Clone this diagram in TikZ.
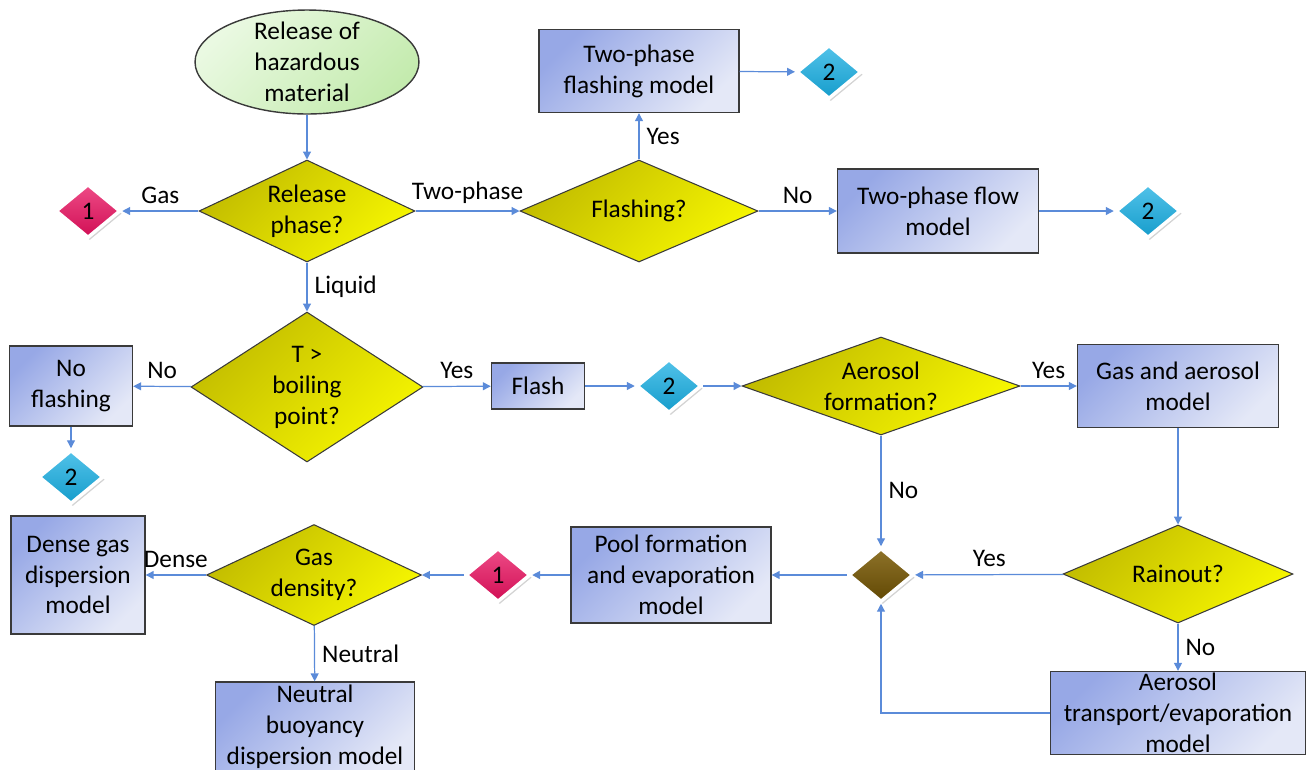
\documentclass[tikz,border=0pt]{standalone}
\usepackage{fontspec}
\setmainfont{Carlito}
\usetikzlibrary{shapes.geometric, arrows.meta, shadows}

\definecolor{arrowblue}{HTML}{5B8BD9}
\definecolor{boxdark}{HTML}{97A8E6}
\definecolor{boxlight}{HTML}{E4E8F7}
\definecolor{yelldark}{HTML}{C2BC00}
\definecolor{yelllight}{HTML}{F6F600}
\definecolor{edgegray}{HTML}{3A3A3A}
\definecolor{greendark}{HTML}{C4EBAE}
\definecolor{greenlight}{HTML}{EAF9E2}
\definecolor{pinkc}{HTML}{E8105E}
\definecolor{bluec}{HTML}{18AEE2}
\definecolor{brownc}{HTML}{7A5A04}

\begin{document}
\begin{tikzpicture}[x=0.02cm, y=-0.02cm,
    every node/.style={font=\fontsize{14.4}{17.6}\selectfont, text=black},
    model/.style={draw=edgegray, line width=0.8pt, left color=boxdark, right color=boxlight, shading angle=45, align=center, inner sep=0pt},
    decision/.style={diamond, draw=edgegray, line width=0.6pt, left color=yelldark, right color=yelllight, shading angle=45, align=center, inner sep=0pt},
    joint/.style={diamond, draw=white, line width=2pt, inner sep=0pt, aspect=1.2, minimum width=1.3cm, minimum height=1.08cm, drop shadow={opacity=0.35, shadow xshift=1pt, shadow yshift=-1.5pt}},
    pinkjoint/.style={joint, top color=pinkc!75!white, bottom color=pinkc!90!black},
    bluejoint/.style={joint, top color=bluec!75!white, bottom color=bluec!90!black},
    flow/.style={draw=arrowblue, line width=0.7pt, -{Triangle[length=4.5pt, width=4.5pt]}},
    lbl/.style={inner sep=4pt}]
    \useasboundingbox (0,0) rectangle (1306,769);

    % Start
    \node[ellipse, draw=edgegray, line width=0.8pt, left color=greenlight, right color=greendark, shading angle=45, minimum width=4.48cm, minimum height=2.08cm] (start) at (307,62) {};
    \node[align=center] (starttext) at (start.center) {Release of\\hazardous\\material};

    % Decisions
    \node[decision, minimum width=4.32cm, minimum height=2.04cm, aspect=2.1] (rphase) at (307,211) {Release\\phase?};
    \node[decision, minimum width=4.76cm, minimum height=2.04cm, aspect=2.3] (flashq) at (639,211) {Flashing?};
    \node[decision, minimum width=4.64cm, minimum height=3.0cm, aspect=1.55] (tboil) at (307,387) {T >\\boiling\\point?};
    \node[decision, minimum width=5.56cm, minimum height=1.96cm, aspect=2.84] (aerq) at (881,386) {Aerosol\\formation?};
    \node[decision, minimum width=4.6cm, minimum height=1.96cm, aspect=2.35] (rainq) at (1178,574) {Rainout?};
    \node[decision, minimum width=4.3cm, minimum height=2.02cm, aspect=2.13] (densq) at (314,575) {Gas\\density?};

    % Models
    \node[model, minimum width=4cm, minimum height=1.66cm] (tpfm) at (639,71) {Two-phase\\flashing model};
    \node[model, minimum width=4.02cm, minimum height=1.68cm] (tpflow) at (938,211) {Two-phase flow\\model};
    \node[model, minimum width=2.46cm, minimum height=1.6cm] (noflash) at (71,386) {No\\flashing};
    \node[model, minimum width=1.86cm, minimum height=0.92cm] (flash) at (538,386) {Flash};
    \node[model, minimum width=4.02cm, minimum height=1.66cm] (gasaer) at (1178,386) {Gas and aerosol\\model};
    \node[model, minimum width=4cm, minimum height=1.92cm] (pool) at (671,575) {Pool formation\\and evaporation\\model};
    \node[model, minimum width=2.68cm, minimum height=2.36cm] (dense) at (78,575) {Dense gas\\dispersion\\model};
    \node[model, minimum width=3.98cm, minimum height=1.8cm] (neutral) at (315,727) {Neutral\\buoyancy\\dispersion model};
    \node[model, minimum width=5.1cm, minimum height=1.66cm] (aertrans) at (1178,713) {Aerosol\\transport/evaporation\\model};

    % Connectors
    \node[pinkjoint] (gasa) at (88,211) {1};
    \node[pinkjoint] (gasb) at (498,575) {1};
    \node[bluejoint] (flsha) at (829,72) {2};
    \node[bluejoint] (flshb) at (1148,211) {2};
    \node[bluejoint] (flshc) at (71,477) {2};
    \node[bluejoint] (flshd) at (669,386) {2};
    \node[joint, top color=brownc!85!white, bottom color=brownc!80!black] (merge) at (881,575) {};

    % Arrows
    \draw[flow] (start) -- (rphase);
    \draw[flow] (rphase) -- node[lbl, above] {Gas} (gasa);
    \draw[flow] (rphase) -- node[lbl, above] {Two-phase} (flashq);
    \draw[flow] (flashq) -- node[lbl, right] {Yes} (tpfm);
    \draw[flow] (tpfm) -- (flsha);
    \draw[flow] (flashq) -- node[lbl, above] {No} (tpflow);
    \draw[flow] (tpflow) -- (flshb);
    \draw[flow] (rphase) -- node[lbl, right] {Liquid} (tboil);
    \draw[flow] (tboil) -- node[lbl, above] {No} (noflash);
    \draw[flow] (noflash) -- (flshc);
    \draw[flow] (tboil) -- node[lbl, above] {Yes} (flash);
    \draw[flow] (flash) -- (flshd);
    \draw[flow] (flshd) -- (aerq);
    \draw[flow] (aerq) -- node[lbl, above] {Yes} (gasaer);
    \draw[flow] (gasaer) -- (rainq);
    \draw[flow] (aerq) -- node[lbl, right] {No} (merge);
    \draw[flow] (rainq) -- node[lbl, above] {Yes} (merge);
    \draw[flow] (rainq) -- node[lbl, right] {No} (aertrans);
    \draw[flow] (aertrans) -| (merge);
    \draw[flow] (merge) -- (pool);
    \draw[flow] (pool) -- (gasb);
    \draw[flow] (gasb) -- (densq);
    \draw[flow] (densq) -- node[lbl, above] {Dense} (dense);
    \draw[flow] (densq) -- node[lbl, right] {Neutral} (neutral);
\end{tikzpicture}
\end{document}
